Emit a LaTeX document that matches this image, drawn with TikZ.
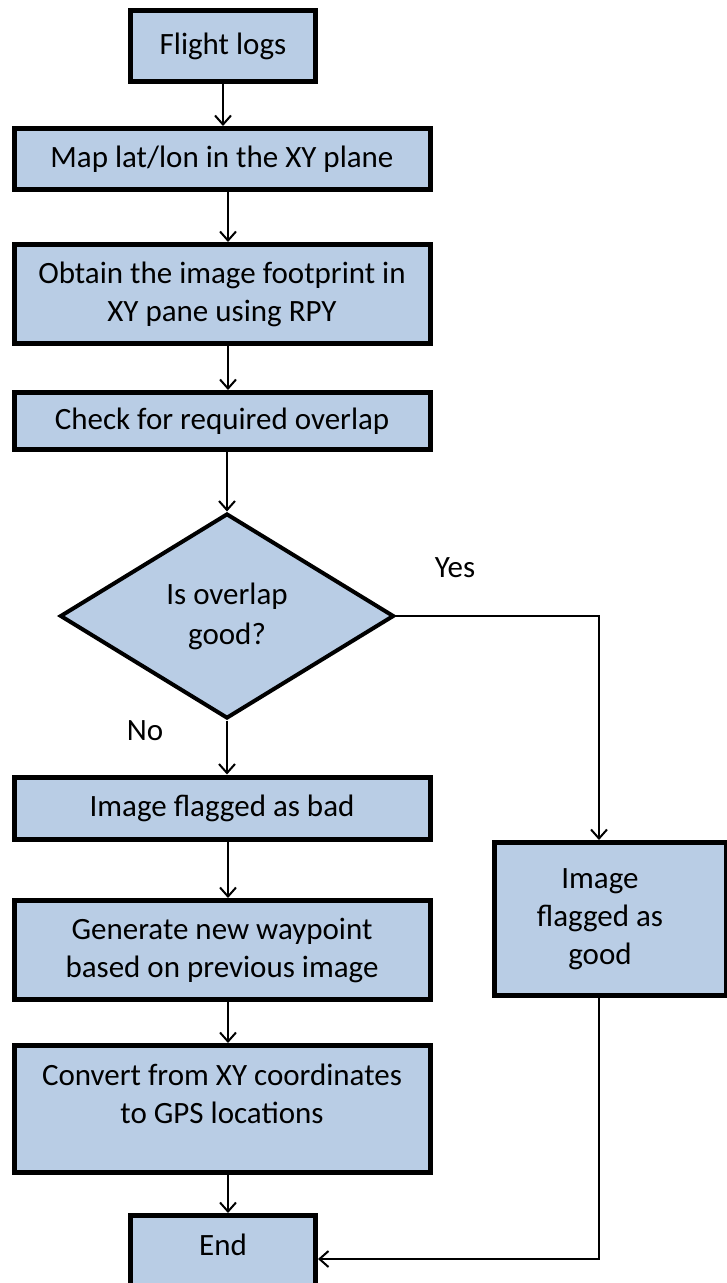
\documentclass[tikz,border=0pt]{standalone}
\usepackage{fontspec}
\setmainfont{Carlito}
\usetikzlibrary{arrows.meta,shapes.geometric}
\definecolor{stepfill}{RGB}{185,205,229}
% give a box extra depth so its content sits higher than the node centre
\newcommand{\liftby}[2]{\raisebox{0pt}[\height][\dimexpr\depth+#1*2\relax]{#2}}
\begin{document}
\begin{tikzpicture}[x=1pt,y=-1pt,
  stepbox/.style={draw, line width=5pt, fill=stepfill, inner sep=0pt,
    font=\fontsize{31}{38}\selectfont},
  decision/.style={diamond, draw, line width=4pt, fill=stepfill, inner sep=0pt,
    align=center, font=\fontsize{31}{40}\selectfont},
  flow/.style={line width=2pt, -{Straight Barb[length=9pt,width=16pt]}},
  tag/.style={inner sep=0pt, font=\fontsize{31}{38}\selectfont}]
\useasboundingbox (0,0) rectangle (727,1283);

\coordinate (spine) at (228,0);
\coordinate (rail) at (599,0);

% main column
\node[stepbox, minimum width=185pt, minimum height=71pt] (logs) at (223,46) {Flight logs};
\node[stepbox, minimum width=416pt, minimum height=61pt] (map) at (222,159) {Map lat/lon in the XY plane};
\node[stepbox, minimum width=416pt, minimum height=99pt, align=center] (obtain) at (222,294)
  {Obtain the image footprint in\\XY pane using RPY};
\node[stepbox, minimum width=416pt, minimum height=57pt] (check) at (222,421) {Check for required overlap};
\node[decision, minimum width=334pt, minimum height=205pt] (dec) at (227,616) {Is overlap\\good?};
\node[stepbox, minimum width=416pt, minimum height=62pt] (bad) at (222,808) {Image flagged as bad};
\node[stepbox, minimum width=416pt, minimum height=99pt, align=center] (gen) at (222,950)
  {Generate new waypoint\\based on previous image};
\node[stepbox, minimum width=416pt, minimum height=127pt] (conv) at (222,1109)
  {\liftby{12pt}{\begin{tabular}{@{}c@{}}Convert from XY coordinates\\to GPS locations\end{tabular}}};
\node[stepbox, minimum width=185pt, minimum height=87pt] (end) at (223,1259) {\liftby{14pt}{End}};

% right branch
\node[stepbox, minimum width=232pt, minimum height=153pt] (good) at (610,919)
  {\begin{tabular}{@{}c@{}}Image\\flagged as\\good\end{tabular}\kern20pt};

% branch labels
\node[tag] (yes) at (455,568) {Yes};
\node[tag] (no) at (145,731) {No};

% connectors
\draw[flow] (logs.south) -- (logs.south |- map.north);
\draw[flow] (map.south -| spine) -- (obtain.north -| spine);
\draw[flow] (obtain.south -| spine) -- (check.north -| spine);
\draw[flow] (check.south -| dec) -- (dec.north);
\draw[flow] (dec.south) -- (bad.north -| dec);
\draw[flow] (bad.south -| spine) -- (gen.north -| spine);
\draw[flow] (gen.south -| spine) -- (conv.north -| spine);
\draw[flow] (conv.south -| spine) -- (end.north -| spine);
\draw[flow] (dec.east) -| (good.north -| rail);
\draw[flow] (good.south -| rail) |- (end.east);
\end{tikzpicture}
\end{document}
